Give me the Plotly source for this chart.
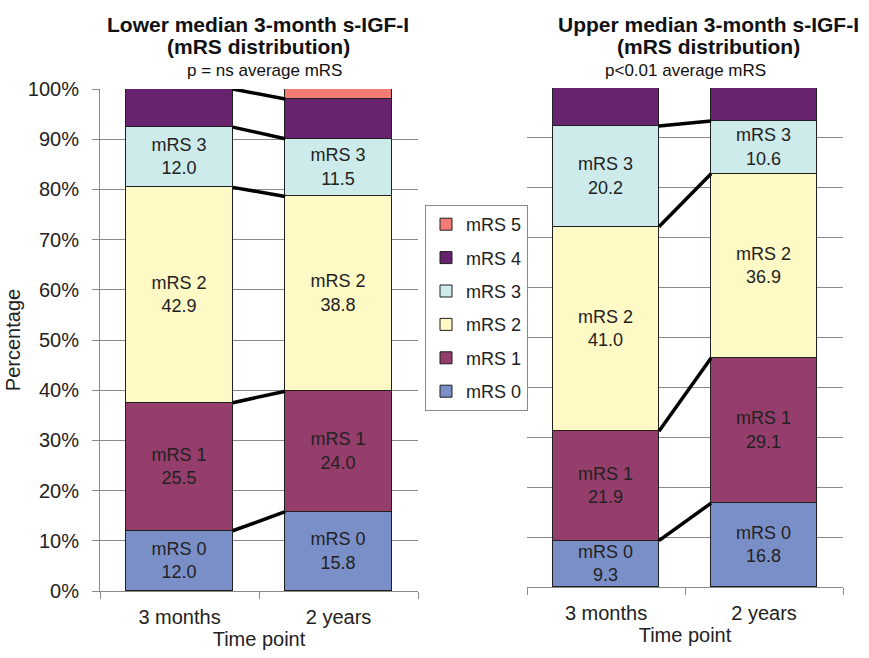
import plotly.graph_objects as go

# ---------------- data ----------------
categories = ["3 months", "2 years"]
levels = ["mRS 0", "mRS 1", "mRS 2", "mRS 3", "mRS 4", "mRS 5"]

lower_mrs0 = [12.0, 15.8]
lower_mrs1 = [25.5, 24.0]
lower_mrs2 = [42.9, 38.8]
lower_mrs3 = [12.0, 11.5]
lower_mrs4 = [7.6, 7.9]
lower_mrs5 = [0.0, 2.0]

upper_mrs0 = [9.3, 16.8]
upper_mrs1 = [21.9, 29.1]
upper_mrs2 = [41.0, 36.9]
upper_mrs3 = [20.2, 10.6]
upper_mrs4 = [7.6, 6.6]
upper_mrs5 = [0.0, 0.0]

labelled_levels = ["mRS 0", "mRS 1", "mRS 2", "mRS 3"]
y_tick_values = [0, 10, 20, 30, 40, 50, 60, 70, 80, 90, 100]
y_tick_labels = ["0%", "10%", "20%", "30%", "40%", "50%", "60%", "70%", "80%", "90%", "100%"]

lower_title_1 = "<b>Lower median 3-month s-IGF-I</b>"
lower_title_2 = "<b>(mRS distribution)</b>"
lower_sub = "p = ns average mRS"
upper_title_1 = "<b>Upper median 3-month s-IGF-I</b>"
upper_title_2 = "<b>(mRS distribution)</b>"
upper_sub = "p<0.01 average mRS"

lower = [lower_mrs0, lower_mrs1, lower_mrs2, lower_mrs3, lower_mrs4, lower_mrs5]
upper = [upper_mrs0, upper_mrs1, upper_mrs2, upper_mrs3, upper_mrs4, upper_mrs5]

# ---------------- style ----------------
COLORS = {
    "mRS 0": "#7A8FC8",
    "mRS 1": "#953D6B",
    "mRS 2": "#FFF9C6",
    "mRS 3": "#CDEBEB",
    "mRS 4": "#68236F",
    "mRS 5": "#F47C74",
}
FONT = "Liberation Sans, Arial, sans-serif"
TXT = "#222222"
GRID = "#8A8A8A"
BAR_W = 0.67
W, H = 869, 658
x_pos = list(range(len(categories)))

fig = go.Figure()


def add_panel(values, xa, ya, show_legend):
    for i, (lvl, vals) in enumerate(zip(levels, values)):
        text = [f"{lvl}<br>{v:.1f}" if lvl in labelled_levels else "" for v in vals]
        fig.add_trace(go.Bar(
            x=x_pos, y=vals, width=BAR_W, name=lvl,
            marker=dict(color=COLORS[lvl], line=dict(color="#1F1F1F", width=1)),
            text=text, textposition="inside", insidetextanchor="middle",
            textangle=0, constraintext="none",
            textfont=dict(size=18, color=TXT, family=FONT),
            xaxis=xa, yaxis=ya, showlegend=show_legend, legendgroup=lvl,
            legendrank=100 - i, hoverinfo="skip",
        ))
    # connector lines between cumulative boundaries
    cum = []
    for i in range(len(categories)):
        s, c = 0.0, []
        for vals in values:
            s += vals[i]
            c.append(s)
        cum.append(c)
    for k in range(len(levels) - 1):
        if not any(v > 0 for v in values[k + 1]):
            continue
        fig.add_trace(go.Scatter(
            x=[x_pos[0] + BAR_W / 2, x_pos[1] - BAR_W / 2],
            y=[cum[0][k], cum[1][k]],
            mode="lines", line=dict(color="black", width=3.5),
            xaxis=xa, yaxis=ya, showlegend=False, hoverinfo="skip",
        ))


add_panel(lower, "x", "y", True)
add_panel(upper, "x2", "y2", False)

xaxis_common = dict(
    range=[-0.5, 1.5], tickmode="array", tickvals=x_pos, ticktext=categories, ticks="",
    showline=True, linecolor=GRID, linewidth=1, showgrid=False, zeroline=False,
    tickfont=dict(size=20, color=TXT, family=FONT), ticklabelstandoff=8,
    minor=dict(tickvals=[-0.5, 0.5, 1.5], ticks="outside", ticklen=7,
               tickcolor=GRID, showgrid=False),
    title=dict(text="Time point", font=dict(size=20, color=TXT, family=FONT), standoff=0),
    automargin=False, fixedrange=True,
)
yaxis_common = dict(
    range=[0, 100], tickmode="array", tickvals=y_tick_values, showgrid=True,
    gridcolor=GRID, gridwidth=1, zeroline=False, fixedrange=True, automargin=False,
)


def ann(text, xpx, ypx, size, color="#111"):
    return dict(text=text, x=xpx / W, y=1 - ypx / H, xref="paper", yref="paper",
                xanchor="center", yanchor="middle", showarrow=False,
                font=dict(size=size, color=color, family=FONT))


fig.update_layout(
    width=W, height=H,
    margin=dict(l=0, r=0, t=0, b=0, autoexpand=False),
    paper_bgcolor="white", plot_bgcolor="white",
    barmode="stack", bargap=0,
    font=dict(family=FONT, color=TXT),
    xaxis=dict(domain=[100 / W, 418 / W], anchor="y", **xaxis_common),
    xaxis2=dict(domain=[527 / W, 843 / W], anchor="y2", **xaxis_common),
    yaxis=dict(domain=[1 - 591 / H, 1 - 89 / H], anchor="x",
               ticktext=y_tick_labels, ticks="outside", ticklen=7, tickcolor=GRID,
               showline=True, linecolor=GRID, linewidth=1,
               tickfont=dict(size=20, color=TXT, family=FONT), ticklabelstandoff=9,
               title=dict(text="Percentage", font=dict(size=20, color=TXT, family=FONT), standoff=1),
               **yaxis_common),
    yaxis2=dict(domain=[1 - 587 / H, 1 - 88 / H], anchor="x2",
                showticklabels=False, ticks="", showline=False, **yaxis_common),
    legend=dict(
        x=425 / W, y=1 - 205 / H, xanchor="left", yanchor="top",
        traceorder="grouped", tracegroupgap=7,
        bordercolor=GRID, borderwidth=1,
        font=dict(size=18, color=TXT, family=FONT), bgcolor="white",
        itemwidth=30,
    ),
    annotations=[
        ann(lower_title_1, 258, 24, 21),
        ann(lower_title_2, 258, 46, 21),
        ann(lower_sub, 264, 71, 17),
        ann(upper_title_1, 708, 24, 21),
        ann(upper_title_2, 708, 46, 21),
        ann(upper_sub, 685, 71, 17),
    ],
)

fig.write_html("out.html", config={"displayModeBar": False},
               post_script="document.body.style.margin='0px';")
